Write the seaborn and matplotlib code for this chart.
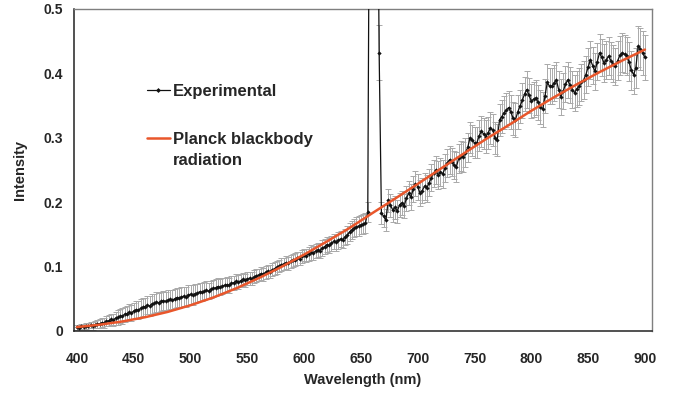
import numpy as np
import pandas as pd
import matplotlib
matplotlib.use("Agg")
import matplotlib.pyplot as plt
from matplotlib.lines import Line2D
from matplotlib.legend_handler import HandlerLine2D
import seaborn as sns

# ---------------- data ----------------
wavelength = list(range(400, 901, 2))

intensity = (
    [0.006, 0.005, 0.007, 0.006, 0.008, 0.007, 0.009, 0.008, 0.010, 0.011]   # 400-418
    + [0.011, 0.013, 0.012, 0.015, 0.016, 0.018, 0.017, 0.020, 0.021, 0.023]  # 420-438
    + [0.023, 0.026, 0.027, 0.029, 0.028, 0.031, 0.033, 0.032, 0.035, 0.037]  # 440-458
    + [0.038, 0.040, 0.039, 0.042, 0.043, 0.045, 0.044, 0.046, 0.047, 0.046]  # 460-478
    + [0.048, 0.049, 0.048, 0.050, 0.052, 0.051, 0.053, 0.054, 0.053, 0.056]  # 480-498
    + [0.057, 0.056, 0.058, 0.059, 0.061, 0.060, 0.062, 0.063, 0.062, 0.065]  # 500-518
    + [0.066, 0.067, 0.069, 0.068, 0.070, 0.071, 0.072, 0.071, 0.074, 0.075]  # 520-538
    + [0.077, 0.076, 0.078, 0.080, 0.079, 0.081, 0.082, 0.081, 0.084, 0.086]  # 540-558
    + [0.087, 0.089, 0.088, 0.091, 0.093, 0.092, 0.095, 0.097, 0.099, 0.101]  # 560-578
    + [0.103, 0.104, 0.106, 0.105, 0.108, 0.110, 0.111, 0.113, 0.112, 0.116]  # 580-598
    + [0.118, 0.117, 0.120, 0.122, 0.121, 0.124, 0.126, 0.125, 0.129, 0.131]  # 600-618
    + [0.134, 0.133, 0.136, 0.139, 0.138, 0.141, 0.143, 0.142, 0.146, 0.149]  # 620-638
    + [0.154, 0.157, 0.160, 0.162, 0.163, 0.165, 0.166, 0.168]                # 640-654
    + [0.185]                                                                 # 656
    + [0.95, 1.10, 1.05, 0.90]                                                # 658-664 (off scale)
    + [0.432, 0.183]                                                          # 666-668
    + [0.178, 0.172, 0.203, 0.195, 0.188, 0.192, 0.186, 0.196, 0.199, 0.194]  # 670-688
    + [0.206, 0.214, 0.208, 0.220, 0.229, 0.224, 0.214, 0.218, 0.225, 0.222]  # 690-708
    + [0.230, 0.238, 0.245, 0.250, 0.242, 0.247, 0.244, 0.253, 0.261, 0.266]  # 710-728
    + [0.262, 0.258, 0.255, 0.268, 0.272, 0.270, 0.277, 0.285, 0.300, 0.296]  # 730-748
    + [0.292, 0.292, 0.303, 0.310, 0.306, 0.302, 0.308, 0.315, 0.312, 0.300]  # 750-768
    + [0.297, 0.328, 0.333, 0.339, 0.343, 0.347, 0.340, 0.330, 0.328, 0.340]  # 770-788
    + [0.349, 0.358, 0.368, 0.375, 0.366, 0.357, 0.360, 0.362, 0.355, 0.348]  # 790-808
    + [0.344, 0.365, 0.386, 0.380, 0.380, 0.385, 0.390, 0.375, 0.364, 0.372]  # 810-828
    + [0.383, 0.390, 0.382, 0.375, 0.370, 0.376, 0.380, 0.386, 0.390, 0.398]  # 830-848
    + [0.410, 0.421, 0.412, 0.403, 0.418, 0.432, 0.425, 0.416, 0.421, 0.427]  # 850-868
    + [0.420, 0.415, 0.411, 0.420, 0.428, 0.432, 0.430, 0.427, 0.418, 0.405]  # 870-888
    + [0.398, 0.409, 0.442, 0.438, 0.432, 0.425]                              # 890-900
)

intensity_err = (
    [0.004, 0.004, 0.004, 0.005, 0.005, 0.005, 0.005, 0.006, 0.006, 0.006]   # 400-418
    + [0.007, 0.007, 0.008, 0.008, 0.009, 0.009, 0.010, 0.010, 0.011, 0.011]  # 420-438
    + [0.012, 0.012, 0.012, 0.013, 0.013, 0.013, 0.013, 0.014, 0.014, 0.014]  # 440-458
    + [0.014, 0.014, 0.015, 0.015, 0.015, 0.015, 0.015, 0.015, 0.015, 0.015]  # 460-478
    + [0.015, 0.015, 0.015, 0.015, 0.015, 0.015, 0.015, 0.015, 0.015, 0.015]  # 480-498
    + [0.015, 0.015, 0.015, 0.014, 0.014, 0.014, 0.014, 0.014, 0.013, 0.013]  # 500-518
    + [0.013, 0.013, 0.013, 0.012, 0.012, 0.012, 0.012, 0.012, 0.011, 0.011]  # 520-538
    + [0.011, 0.011, 0.010, 0.010, 0.010, 0.010, 0.010, 0.010, 0.010, 0.010]  # 540-558
    + [0.010, 0.010, 0.010, 0.010, 0.010, 0.010, 0.010, 0.010, 0.010, 0.010]  # 560-578
    + [0.010, 0.010, 0.010, 0.010, 0.010, 0.010, 0.010, 0.010, 0.010, 0.010]  # 580-598
    + [0.010, 0.010, 0.011, 0.011, 0.011, 0.011, 0.011, 0.011, 0.012, 0.012]  # 600-618
    + [0.012, 0.012, 0.012, 0.012, 0.013, 0.013, 0.013, 0.013, 0.013, 0.014]  # 620-638
    + [0.014, 0.014, 0.014, 0.015, 0.015, 0.015, 0.015, 0.016]                # 640-654
    + [0.016]                                                                 # 656
    + [0.0, 0.0, 0.0, 0.0]                                                    # 658-664
    + [0.043, 0.017]                                                          # 666-668
    + [0.017, 0.017, 0.018, 0.018, 0.018, 0.018, 0.018, 0.019, 0.019, 0.019]  # 670-688
    + [0.019, 0.019, 0.020, 0.020, 0.020, 0.020, 0.020, 0.020, 0.021, 0.021]  # 690-708
    + [0.021, 0.021, 0.021, 0.021, 0.022, 0.022, 0.022, 0.022, 0.022, 0.022]  # 710-728
    + [0.022, 0.022, 0.023, 0.023, 0.023, 0.023, 0.023, 0.023, 0.024, 0.024]  # 730-748
    + [0.024, 0.024, 0.024, 0.024, 0.024, 0.025, 0.025, 0.025, 0.025, 0.025]  # 750-768
    + [0.025, 0.025, 0.025, 0.026, 0.026, 0.026, 0.026, 0.026, 0.026, 0.026]  # 770-788
    + [0.026, 0.027, 0.027, 0.028, 0.027, 0.027, 0.027, 0.027, 0.027, 0.027]  # 790-808
    + [0.027, 0.027, 0.028, 0.028, 0.028, 0.028, 0.028, 0.028, 0.028, 0.028]  # 810-828
    + [0.028, 0.028, 0.028, 0.028, 0.028, 0.028, 0.029, 0.029, 0.029, 0.029]  # 830-848
    + [0.029, 0.029, 0.029, 0.029, 0.029, 0.029, 0.029, 0.029, 0.029, 0.029]  # 850-868
    + [0.029, 0.029, 0.029, 0.030, 0.030, 0.030, 0.030, 0.030, 0.030, 0.030]  # 870-888
    + [0.030, 0.031, 0.032, 0.033, 0.034, 0.035]                              # 890-900
)

planck_wavelength = [400, 420, 440, 460, 480, 500, 520, 540, 560, 580, 600, 620, 640,
                     660, 680, 700, 720, 740, 760, 780, 800, 820, 840, 860, 880, 900]
planck_intensity = [0.0061, 0.0098, 0.0148, 0.0214, 0.0297, 0.0400, 0.0520, 0.0661, 0.0821,
                    0.0996, 0.1187, 0.1390, 0.1600, 0.1830, 0.2055, 0.2284, 0.2518, 0.2750,
                    0.2980, 0.3196, 0.3420, 0.3630, 0.3830, 0.4020, 0.4200, 0.4370]

x_ticks = [400, 450, 500, 550, 600, 650, 700, 750, 800, 850, 900]
y_ticks = [0, 0.1, 0.2, 0.3, 0.4, 0.5]
y_tick_labels = ["0", "0.1", "0.2", "0.3", "0.4", "0.5"]
legend_labels = ["Experimental", "Planck blackbody\nradiation"]

exp_df = pd.DataFrame({"wavelength": wavelength, "intensity": intensity, "err": intensity_err})
planck_df = pd.DataFrame({"wavelength": planck_wavelength, "intensity": planck_intensity})

# ---------------- plot ----------------
sns.set_theme(style="white")
plt.rcParams["font.family"] = ["Liberation Sans", "DejaVu Sans"]

fig = plt.figure(figsize=(6.77, 3.93), dpi=100)
ax = fig.add_axes([74 / 677, 1 - 331 / 393, (652 - 74) / 677, (331 - 9) / 393])

orange = "#E9562B"

ax.errorbar(exp_df["wavelength"], exp_df["intensity"], yerr=exp_df["err"], fmt="none",
            ecolor="#A9A9A9", elinewidth=0.7, capsize=2.0, capthick=0.7, zorder=2)
sns.lineplot(data=exp_df, x="wavelength", y="intensity", ax=ax, color="#111111",
             linewidth=0.9, marker="D", markersize=2.2, markeredgewidth=0,
             estimator=None, sort=False, zorder=3)
sns.lineplot(data=planck_df, x="wavelength", y="intensity", ax=ax, color=orange,
             linewidth=1.8, estimator=None, zorder=4)

ax.set_xlim(397.4, 906.2)
ax.set_ylim(0, 0.5)
ax.set_xticks(x_ticks)
ax.set_xticklabels([str(t) for t in x_ticks])
ax.set_yticks(y_ticks)
ax.set_yticklabels(y_tick_labels)
ax.tick_params(axis="both", length=0, labelsize=10)
ax.tick_params(axis="x", pad=15)
ax.tick_params(axis="y", pad=8)
for lab in ax.get_xticklabels() + ax.get_yticklabels():
    lab.set_fontweight("bold")

ax.set_xlabel("Wavelength (nm)", fontsize=10.5, fontweight="bold", labelpad=5)
ax.set_ylabel("Intensity", fontsize=10.5, fontweight="bold", labelpad=12)

for side in ["left", "bottom"]:
    ax.spines[side].set_color("#222222")
    ax.spines[side].set_linewidth(1.1)
for side in ["top", "right"]:
    ax.spines[side].set_color("#7F7F7F")
    ax.spines[side].set_linewidth(1.0)


class TopLineHandler(HandlerLine2D):
    """Align the legend line with the first line of a two-line label."""
    def __init__(self, shift, **kw):
        super().__init__(**kw)
        self.shift = shift

    def create_artists(self, legend, orig_handle, xdescent, ydescent, width, height,
                       fontsize, trans):
        return super().create_artists(legend, orig_handle, xdescent,
                                      ydescent - self.shift, width, height, fontsize, trans)


exp_handle = Line2D([], [], color="#111111", linewidth=0.9, marker="D", markersize=2.5,
                    markeredgewidth=0)
planck_handle = Line2D([], [], color=orange, linewidth=1.8)
leg_fs = 12
leg = fig.legend([exp_handle, planck_handle], legend_labels,
                 loc="upper left", bbox_to_anchor=(147 / 677, 1 - 84 / 393),
                 frameon=False, borderpad=0, borderaxespad=0, handlelength=1.35,
                 handletextpad=0.2, labelspacing=2.0,
                 handler_map={planck_handle: TopLineHandler(shift=1.45 * leg_fs)},
                 prop={"size": leg_fs, "weight": "bold"})
for t in leg.get_texts():
    t.set_linespacing(1.45)

fig.savefig("out.png", dpi=100)
